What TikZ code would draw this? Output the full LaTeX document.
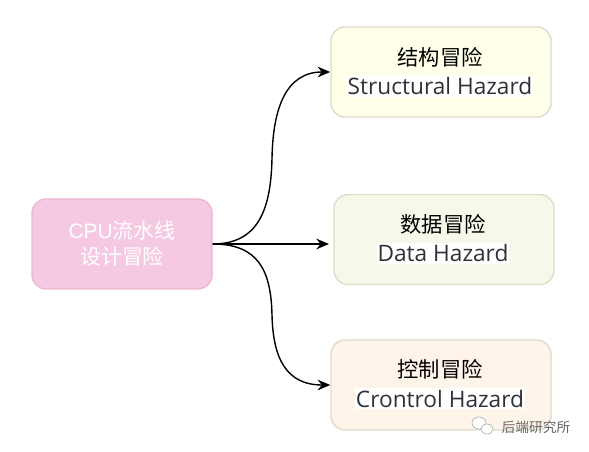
\documentclass[tikz,border=0pt]{standalone}
\usepackage{fontspec}
\setmainfont{Open Sans}
\newfontfamily\cjk{Noto Sans CJK SC}
\newfontfamily\helv{Liberation Sans}
\usetikzlibrary{arrows.meta}
\definecolor{pinkfill}{HTML}{F6C9E2}
\definecolor{pinkline}{HTML}{EDB5D0}
\definecolor{yelfill}{HTML}{FFFFEA}
\definecolor{grnfill}{HTML}{F5F9EA}
\definecolor{orgfill}{HTML}{FFF4EA}
\definecolor{boxline}{HTML}{DEDCCB}
\definecolor{engtext}{HTML}{2E3138}
\tikzset{
  x=0.75pt,y=-0.75pt,
  hazbox/.style={draw=boxline,line width=1.1pt,rounded corners=10.5pt,minimum width=165pt,minimum height=67.5pt,inner sep=0pt,align=center},
  startbox/.style={draw=pinkline,fill=pinkfill,line width=1pt,rounded corners=10.5pt,minimum width=135pt,minimum height=67.5pt,inner sep=0pt,align=center,text=white,font=\fontsize{15.7}{19.5}\selectfont},
  conn/.style={draw=black,line width=1.05pt,-{Stealth[length=9.5pt,width=8pt]}},
  cntitle/.style={font=\cjk\fontsize{16}{18}\selectfont},
  entitle/.style={font=\fontsize{17}{18}\selectfont,text=engtext,fill=white,inner xsep=0.5pt,inner ysep=1pt},
}
\begin{document}
\begin{tikzpicture}
\useasboundingbox (0,0) rectangle (589,452);
\node[startbox] (s) at (122,244) {{\helv CPU}{\cjk 流水线}\\{\cjk 设计冒险}};
\node[hazbox,fill=yelfill] (a) at (441,72) {};
\node[hazbox,fill=grnfill] (b) at (444,239.5) {};
\node[hazbox,fill=orgfill] (c) at (441,385) {};
\node[cntitle] (a1) at (440,57) {结构冒险};
\node[entitle] (a2) at (440,86.5) {Structural Hazard};
\node[cntitle] (b1) at (443,224) {数据冒险};
\node[entitle] (b2) at (443,253.5) {Data Hazard};
\node[cntitle] (c1) at (440,369) {控制冒险};
\node[entitle] (c2) at (440,398.5) {Crontrol Hazard};
\draw[conn] (s.east) .. controls (258,244) and (271,210) .. (272,158) .. controls (273,108) and (286,72) .. (a.west);
\draw[conn] (s.east) -- (329,244);
\draw[conn] (s.east) .. controls (258,244) and (271,270) .. (272,315) .. controls (273,358) and (286,385) .. (c.west);
% watermark
\begin{scope}[draw=gray!70,line width=0.45pt,fill=white]
\draw[fill=white] (479,423) ellipse (7 and 6);
\draw[fill=white] (487,429) ellipse (6 and 5);
\end{scope}
\node[font=\cjk\fontsize{10.3}{12}\selectfont,text=black!60] (w) at (536,427) {后端研究所};
\end{tikzpicture}
\end{document}
